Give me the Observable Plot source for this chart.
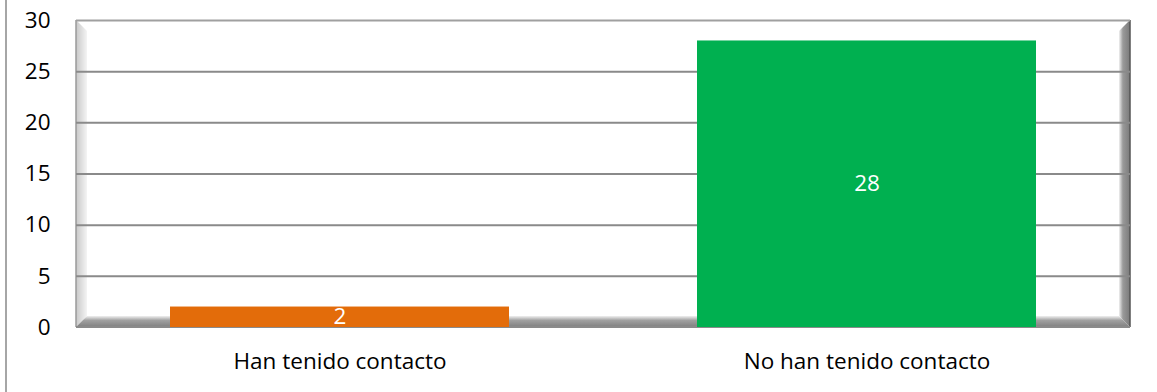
<!DOCTYPE html>
<html>
<head>
<meta charset="utf-8">
<script src="https://cdn.jsdelivr.net/npm/d3@7"></script>
<script src="https://cdn.jsdelivr.net/npm/@observablehq/plot@0.6"></script>
<style>
  html, body { margin: 0; padding: 0; background: white; }
  #wrap { position: relative; width: 1157px; height: 392px; overflow: hidden; }
  #edge { position: absolute; left: 5px; top: 0; bottom: 0; border-left: 2px solid #a6a6a6; }
</style>
</head>
<body>
<div id="wrap"><div id="chart"></div><div id="edge"></div></div>
<script>
// Data
const categories = ["Han tenido contacto", "No han tenido contacto"];
const values = [2, 28];
const barColors = ["#E36C0A", "#00B050"];
const yTicks = [0, 5, 10, 15, 20, 25, 30];

const data = categories.map((c, i) => ({cat: c, value: values[i], color: barColors[i]}));

const FONT = "'Open Sans', sans-serif";
const FS = 22.5;

const plot = Plot.plot({
  width: 1157,
  height: 392,
  marginLeft: 76,
  marginRight: 27,
  marginTop: 20,
  marginBottom: 65,
  style: {fontFamily: FONT, fontSize: FS + "px", color: "black", background: "white", overflow: "visible"},
  x: {domain: categories, paddingInner: 0.356, paddingOuter: 0.178, label: null, tickSize: 0, tickPadding: 26},
  y: {domain: [0, 30], ticks: yTicks, label: null, tickSize: 0, tickPadding: 26},
  marks: [
    Plot.ruleY(yTicks.filter(t => t > 0 && t < 30), {stroke: "#8a8a8a", strokeWidth: 2}),
    Plot.ruleY([30], {stroke: "#a0a0a0", strokeWidth: 2}),
    Plot.barY(data, {x: "cat", y: "value", fill: "color"}),
    Plot.text(data, {x: "cat", y: d => d.value / 2, text: d => String(d.value), fill: "white", fontSize: FS})
  ]
});

document.getElementById("chart").appendChild(plot);

// 3D-like walls and floor, placed from the plot's own scales
const sx = plot.scale("x"), sy = plot.scale("y");
const [xl, xr] = sx.range;
const yTop = sy.apply(30), yBase = sy.apply(0);
const depth = 11;
const svg = d3.select(plot);
const defs = svg.insert("defs", ":first-child");
const lg1 = defs.append("linearGradient").attr("id", "wallL").attr("x1", 0).attr("x2", 1).attr("y1", 0).attr("y2", 0);
lg1.append("stop").attr("offset", 0).attr("stop-color", "#c8c8c8");
lg1.append("stop").attr("offset", 1).attr("stop-color", "#f4f4f4");
const lg2 = defs.append("linearGradient").attr("id", "wallR").attr("x1", 0).attr("x2", 1).attr("y1", 0).attr("y2", 0);
lg2.append("stop").attr("offset", 0).attr("stop-color", "#f0f0f0");
lg2.append("stop").attr("offset", 0.35).attr("stop-color", "#9a9a9a");
lg2.append("stop").attr("offset", 1).attr("stop-color", "#7a7a7a");
const lg3 = defs.append("linearGradient").attr("id", "floor").attr("x1", 0).attr("x2", 0).attr("y1", 0).attr("y2", 1);
lg3.append("stop").attr("offset", 0).attr("stop-color", "#f0f0f0");
lg3.append("stop").attr("offset", 0.4).attr("stop-color", "#a0a0a0");
lg3.append("stop").attr("offset", 1).attr("stop-color", "#808080");

const deco = svg.insert("g", "defs + *");
deco.append("polygon")
  .attr("points", [[xl, yTop], [xl + depth, yTop + depth], [xl + depth, yBase - depth], [xl, yBase]].join(" "))
  .attr("fill", "url(#wallL)");
deco.append("polygon")
  .attr("points", [[xr, yTop], [xr, yBase], [xr - depth, yBase - depth], [xr - depth, yTop + depth]].join(" "))
  .attr("fill", "url(#wallR)");
deco.append("polygon")
  .attr("points", [[xl, yBase], [xl + depth, yBase - depth], [xr - depth, yBase - depth], [xr, yBase]].join(" "))
  .attr("fill", "url(#floor)");
deco.append("line").attr("x1", xl).attr("x2", xl).attr("y1", yTop).attr("y2", yBase).attr("stroke", "#9a9a9a").attr("stroke-width", 1.5);
deco.append("line").attr("x1", xr).attr("x2", xr).attr("y1", yTop).attr("y2", yBase).attr("stroke", "#555").attr("stroke-width", 1.5);
deco.append("line").attr("x1", xl).attr("x2", xr).attr("y1", yBase).attr("y2", yBase).attr("stroke", "#8a8a8a").attr("stroke-width", 2);
</script>
</body>
</html>
